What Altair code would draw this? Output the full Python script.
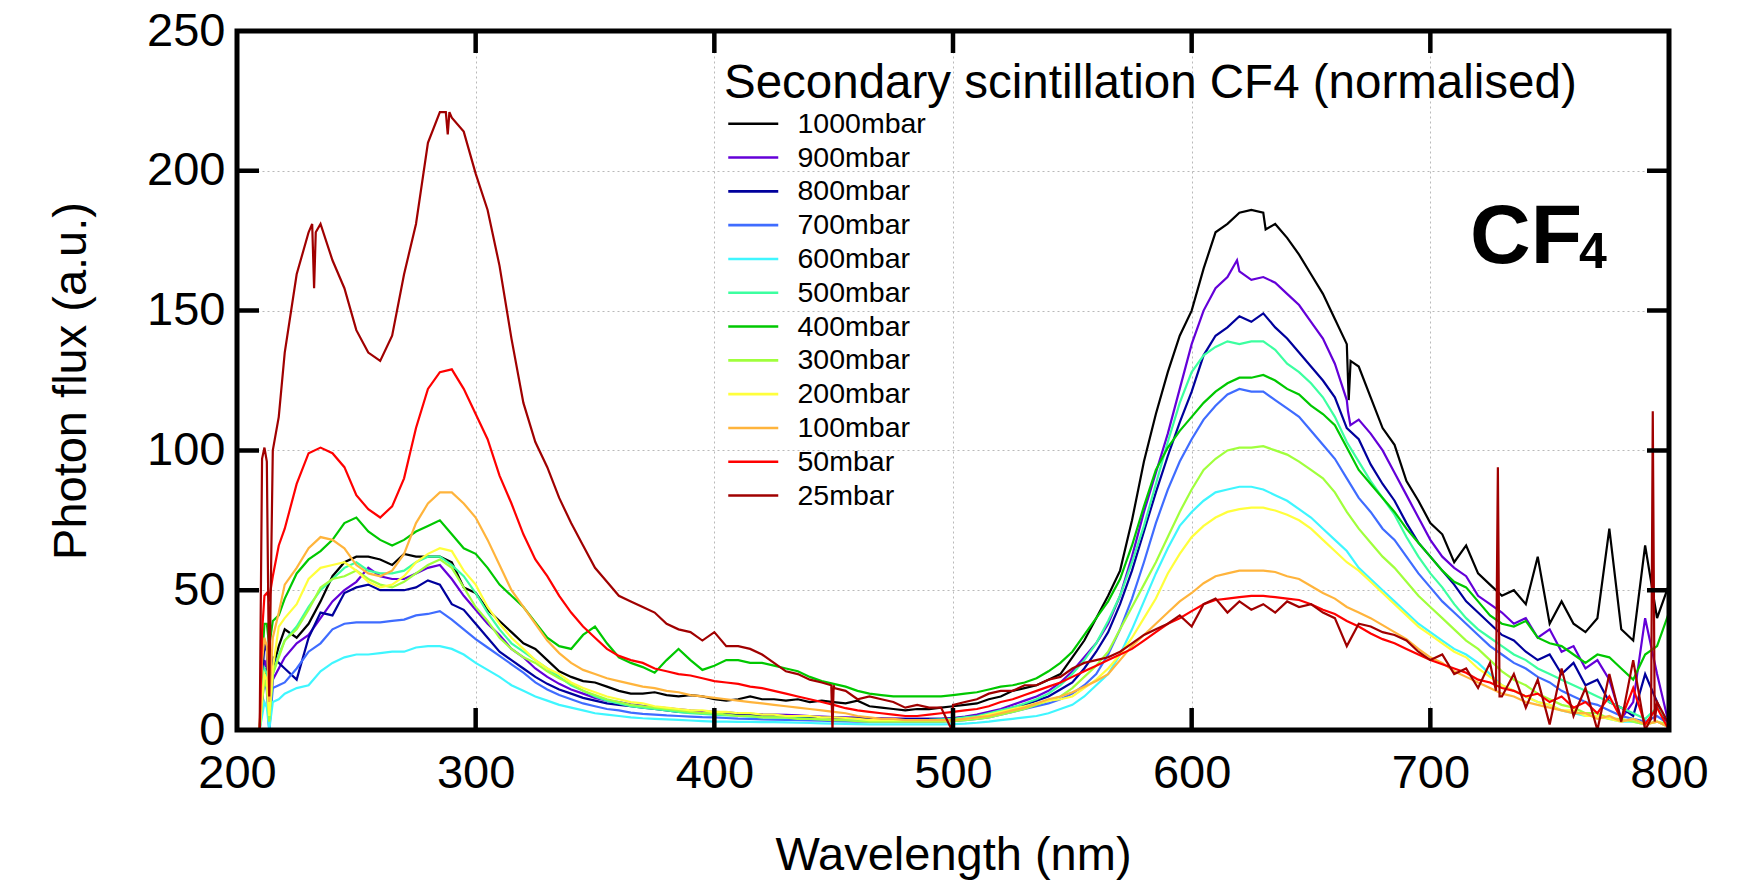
import altair as alt
import pandas as pd

FONT = "Liberation Sans"

# Wavelength grid (nm) shared by all series
GRID = [200, 209.5, 210.5, 211.5, 212.5, 213.5, 215, 217.5, 220] + list(range(225, 801, 5))

SERIES = ["1000mbar", "900mbar", "800mbar", "700mbar", "600mbar", "500mbar",
          "400mbar", "300mbar", "200mbar", "100mbar", "50mbar", "25mbar"]
COLORS = ["#000000", "#6400d8", "#00009c", "#3f6cff", "#3ff6ff", "#3cffa0",
          "#00c800", "#a0ff3c", "#ffff3c", "#ffb43c", "#ff0000", "#a00000"]

X_TICKS = [200, 300, 400, 500, 600, 700, 800]
Y_TICKS = [0, 50, 100, 150, 200, 250]
X_INNER = [300, 400, 500, 600, 700]
Y_INNER = [50, 100, 150, 200]

P1000 = [0, 0, 10, 22, 20, 2, 22, 30, 36,
         33, 38, 46, 55, 60, 62, 62, 61, 59, 63, 62, 62, 62, 60, 51, 49, 43, 39, 35, 31,
         29, 25, 21, 19, 17.5, 17, 15.5, 14, 13, 13, 13.5, 12.5, 12, 12.5, 12, 11, 10.5, 11, 12, 11,
         11, 10.5, 11, 10, 10.5, 10, 9.5, 10.5, 8.5, 8, 7.5, 7, 7.5, 7.5, 8, 8.5, 9, 9.5, 11, 12,
         14, 15, 16, 18, 20, 26, 32, 40, 48, 57, 75, 96, 113, 128, 141, 150, 165, 178, 181, 185,
         186, 185, 181, 176, 170, 163, 156, 147, 138, 130, 119, 108, 102, 89, 82, 74, 70, 60, 66, 56,
         52, 48, 50, 45, 62, 38, 46, 38, 35, 40, 72, 36, 32, 66, 40, 52]
P900 = [0, 0, 15, 25, 22, 0, 18, 22, 26,
        31, 34, 40, 46, 50, 53, 58, 55, 54, 54, 56, 58, 59, 54, 48, 43, 38, 34, 29, 26,
        22, 19, 16.5, 14.5, 13, 11.5, 10.5, 10, 9.2, 8.6, 8.2, 7.8, 7.4, 7, 6.7, 6.5, 6.3, 6, 5.8, 5.6,
        5.5, 5.4, 5.2, 5, 4.8, 4.6, 4.5, 4.4, 4.3, 4.2, 4.1, 4, 4, 4, 4, 4.3, 4.8, 5.5, 6.5, 7.5,
        9, 10.5, 12, 14, 17, 21, 26, 31, 38, 48, 62, 78, 92, 106, 122, 138, 150, 158, 162, 164,
        161, 162, 160, 156, 152, 146, 140, 131, 118, 111, 106, 100, 92, 84, 76, 68, 62, 58, 55, 48,
        45, 42, 38, 40, 33, 36, 28, 30, 22, 25, 18, 4, 10, 40, 20, 2]
P800 = [0, 0, 18, 31, 28, 0, 26, 24, 22,
        18, 33, 42, 41, 49, 51, 52, 50, 50, 50, 51, 53.5, 52, 45, 43, 38, 33, 28, 25, 22,
        19, 16.5, 14.5, 13, 11.5, 10.5, 9.5, 9, 8.5, 8, 7.5, 7, 6.5, 6.3, 6, 5.8, 5.6, 5.4, 5.2, 5,
        5, 4.8, 4.7, 4.6, 4.5, 4.4, 4.3, 4.2, 4.1, 4, 4, 4, 4, 4, 4, 4.2, 4.5, 5, 5.8, 6.8,
        8, 9, 10.5, 12, 14.5, 17, 22, 28, 35, 45, 57, 71, 85, 98, 110, 121, 134, 141, 144, 148,
        146, 149, 144, 140, 135, 130, 125, 119, 108, 104, 95, 88, 82, 74, 67, 62, 57, 52, 46, 42,
        38, 34, 32, 28, 25, 27, 20, 24, 16, 18, 10, 8, 5, 20, 10, 0]
P700 = [0, 0, 10, 18, 14, 0, 15, 16, 17,
        22, 28, 31, 36, 38, 38.5, 38.5, 38.5, 39, 39.5, 41, 41.5, 42.5, 39.5, 36, 32.5, 29.5, 26.5, 23.5, 20.5,
        17, 14.5, 12.5, 11, 9.5, 8.5, 7.5, 7, 6.2, 5.8, 5.5, 5.2, 5, 4.8, 4.6, 4.5, 4.3, 4.1, 4, 3.8,
        3.7, 3.6, 3.5, 3.4, 3.3, 3.2, 3.1, 3, 3, 3, 3, 3, 3, 3, 3, 3.2, 3.5, 4, 4.5, 5.5,
        6.5, 7.5, 8.5, 9.5, 11, 13, 16, 20, 27, 36, 47, 60, 74, 86, 96, 104, 111, 116, 120, 122,
        121, 121, 118, 115, 112, 107, 102, 97, 90, 83, 78, 72, 68, 62, 56, 51, 46, 42, 38, 34,
        30, 27, 24, 22, 19, 17, 14, 12, 10, 9, 7, 5, 4, 3, 5, 2]
P600 = [0, 0, 5, 10, 8, 0, 10, 11, 13,
        15, 16, 21, 24, 26, 27, 27, 27.5, 28, 28, 29.5, 30, 30, 29, 27, 24, 21.5, 19, 16, 14,
        12, 10.5, 9, 8, 7, 6, 5.5, 5, 4.5, 4.2, 4, 3.8, 3.6, 3.4, 3.2, 3, 3, 2.9, 2.9, 2.8,
        2.8, 2.7, 2.6, 2.5, 2.4, 2.3, 2.2, 2.1, 2, 2, 2, 2, 2, 2, 2, 2.1, 2.3, 2.6, 3, 3.5,
        4, 4.5, 5, 6, 7.5, 9, 12, 16, 20, 27, 36, 46, 56, 65, 73, 78, 82, 85, 86, 87,
        87, 86, 84, 82, 79, 76, 72, 68, 64, 58, 54, 50, 46, 42, 38, 35, 32, 29, 27, 24,
        20, 16, 14, 12, 10, 9, 7, 6, 5, 5, 4, 3, 3, 2, 3, 1]
P500 = [0, 0, 15, 22, 20, 4, 20, 27, 32,
        37, 44, 50, 54, 58, 60, 57, 56, 56, 57, 60, 62, 62, 59, 55, 49, 42, 36, 31, 28,
        25, 22, 19, 16, 14, 12, 10.5, 9.5, 8.5, 8, 7.5, 7, 6.5, 6, 5.8, 5.5, 5.2, 5, 4.8, 4.6,
        4.5, 4.4, 4.2, 4, 3.8, 3.6, 3.5, 3.5, 3.5, 3.5, 3.5, 3.5, 3.5, 3.6, 3.8, 4, 4.5, 5, 6, 7,
        8, 9.5, 11, 13, 16, 20, 25, 31, 39, 48, 60, 73, 88, 103, 117, 128, 134, 137, 139, 138,
        139, 139, 136, 131, 128, 124, 119, 112, 103, 96, 89, 83, 77, 69, 62, 56, 51, 45, 40, 36,
        33, 30, 27, 25, 22, 20, 18, 16, 14, 12, 10, 8, 6, 4, 8, 3]
P400 = [0, 0, 25, 38, 38, 30, 39, 41, 47,
        56, 61, 64, 68, 74, 76, 71, 68, 66, 68, 71, 73, 75, 70, 65, 63, 58, 52, 48, 44,
        38.5, 33, 30, 29, 34, 37, 31, 26, 24, 22.5, 20.5, 25, 29, 25, 21.5, 23, 25, 25, 24, 24,
        23, 22, 21, 19, 17.5, 16.5, 15.5, 14, 13, 12.5, 12, 12, 12, 12, 12, 12.5, 13, 13.5, 14.5, 15.5,
        16, 17, 18.5, 21, 24, 28, 34, 40, 46, 54, 66, 80, 93, 101, 107, 112, 117, 121, 124, 126,
        126, 127, 125, 122, 120, 116, 113, 109, 101, 93, 88, 83, 78, 72, 67, 62, 57, 53, 51, 46,
        41, 38, 37, 39, 33, 31, 30, 27, 24, 27, 26, 22, 18, 27, 30, 42]
P300 = [0, 0, 10, 18, 15, 3, 20, 26, 32,
        36, 43, 51, 54, 55, 57, 54, 52, 51, 53, 56, 59, 61, 58, 51, 44, 39, 33, 29, 26,
        24, 21, 18.5, 16.5, 14, 12.5, 11, 10, 9, 8.5, 8, 7.5, 7, 6.5, 6, 6, 5.5, 5, 5, 4.5,
        4.5, 4.5, 4, 4, 3.8, 3.5, 3.5, 3.2, 3, 3, 3, 3, 3, 3, 3, 3.2, 3.5, 4, 4.5, 5.5,
        6.5, 7.5, 9, 10.5, 12, 15, 19, 23, 28, 36, 44, 52, 60, 69, 78, 86, 93, 97, 100, 101,
        101, 101.5, 100, 98.5, 96, 93, 90, 85, 78, 72, 67, 62, 58, 53, 48, 44, 40, 36, 32, 29,
        25, 21, 18, 16, 13, 11, 9, 8, 6, 6, 4, 4, 3, 2, 3, 2]
P200 = [0, 0, 12, 20, 18, 5, 22, 37, 40,
        45, 54, 58, 59, 60, 57, 53, 51, 52, 55, 60, 63, 65, 64, 57, 52, 44, 38, 33, 29,
        25, 22, 20, 17, 15, 13.5, 12, 11, 10, 9.5, 8.5, 8, 7.5, 7, 7, 6.5, 6.5, 6, 6, 5.5,
        5.5, 5, 5, 5, 4.5, 4.5, 4.3, 4, 3.5, 3.5, 3.5, 3.5, 3.5, 3.5, 3.5, 3.5, 4, 4.5, 5.5, 6.5,
        7.5, 8.5, 9.5, 10.5, 11, 12, 15, 18, 22, 27, 33, 40, 47, 56, 63, 69, 73, 76, 78, 79,
        79.5, 79.5, 78.5, 77, 75, 72, 68, 64, 60, 57, 53, 49, 45, 41, 37, 34, 31, 28, 26, 22,
        19, 16, 14, 12, 10, 9, 7, 7, 5, 5, 4, 3, 4, 2, 3, 1]
P100 = [0, 0, 25, 33, 30, 10, 33, 42, 52,
        58, 65, 69, 68, 65, 59, 56, 55, 57, 63, 74, 81, 85, 85, 81, 76, 68, 59, 50, 44,
        38, 32, 27.5, 24, 21.5, 20, 18.5, 17.5, 16.5, 15.5, 15, 14, 13.5, 12.5, 12, 11.5, 11, 10.5, 10, 9.5,
        9, 8.5, 8, 7.5, 7, 6.5, 6, 5, 4.5, 4, 4, 3.5, 3.5, 3.5, 3.5, 3.5, 4, 4.5, 5, 6,
        7, 8, 9.5, 11, 12, 13.5, 15.5, 17.5, 20, 25, 30, 34, 38, 42, 46, 49, 52.5, 55, 56, 57,
        57, 57, 56.5, 55, 54, 51.5, 49, 47, 44, 42, 40, 37.5, 35, 32.5, 29, 26, 24, 21, 19, 17,
        15, 13, 12, 10, 9, 8, 7, 6, 6, 4, 5, 3, 4, 2, 3, 1]
P50 = [0, 0, 35, 48, 49, 47, 55, 66, 72,
       88, 99, 101, 99, 94, 84, 79, 76, 80, 90, 108, 122, 128, 129, 122, 113, 104, 91, 81, 70,
       61, 55, 48, 42, 37, 33, 29, 26.5, 25, 24, 22, 21, 20, 19.5, 18.5, 17.5, 17, 16.5, 15.5, 15,
       14, 13, 12, 11, 10, 9, 7.8, 7, 6.5, 6, 5.5, 5, 5, 5.5, 6, 6.5, 7, 7.5, 8.5, 10,
       11, 12.5, 14, 15.5, 17, 19, 21, 23, 25, 27, 29, 32, 35, 38, 40, 42.5, 45, 46.5, 47, 47.5,
       48, 48, 47.5, 47, 46.5, 45, 43, 41.5, 39, 37, 34.5, 32.5, 31, 29, 27, 25, 23.5, 22, 20.5, 18,
       17, 15, 14, 12, 13, 10, 12, 8, 10, 6, 12, 4, 15, 2, 8, 0]
P25 = [0, 0, 97, 101, 96, 12, 100, 112, 135,
       163, 178, 181, 168, 158, 143, 135, 132, 141, 163, 181, 210, 221, 219, 214, 199, 186, 166, 140, 117,
       103, 94, 83, 74, 66, 58, 53, 48, 46, 44, 42, 38, 36, 35, 32, 35, 30, 30, 29, 27,
       24, 21, 20, 18, 17, 16, 14, 11, 12, 11, 10, 8, 9, 8, 8, 9, 10, 11, 13, 14,
       14, 16, 16, 18, 19, 22, 24, 25, 26, 28, 31, 34, 36, 38, 41, 37, 45, 47, 42, 46,
       43, 45, 42, 46, 44, 45, 42, 40, 30, 38, 37, 35, 34, 32, 28, 25, 27, 20, 22, 15,
       24, 12, 20, 8, 18, 2, 22, 5, 15, 0, 20, 3, 25, 0, 10, 2]

VALUES = [P1000, P900, P800, P700, P600, P500, P400, P300, P200, P100, P50, P25]

# narrow spikes / dips between grid points: (wavelength, value)
EXTRA = {
    "1000mbar": [(631, 179), (665.8, 118), (666.6, 132)],
    "900mbar": [(619, 168), (665.5, 114), (666.5, 109)],
    "25mbar": [(231.5, 181), (232.3, 158), (233, 178), (287.5, 221), (288.3, 213), (289, 221),
               (449, 16), (449.5, 0), (450.3, 15),
               (499.5, 0), (500.3, 9), (727.5, 14), (728.3, 94), (729, 12),
               (792.5, 4), (793.2, 114), (794, 3)],
}

rows = []
for name, vals in zip(SERIES, VALUES):
    assert len(vals) == len(GRID), (name, len(vals), len(GRID))
    pts = sorted(list(zip(GRID, vals)) + EXTRA.get(name, []))
    for w, v in pts:
        rows.append({"wavelength": w, "flux": v, "pressure": name})
df = pd.DataFrame(rows)

XT = "Wavelength (nm)"
YT = "Photon flux (a.u.)"
xs = alt.Scale(domain=[200, 800], nice=False, zero=False)
ys = alt.Scale(domain=[0, 250], nice=False, zero=False)

x_axis = alt.Axis(values=X_TICKS, title=XT, labelPadding=20, titlePadding=36,
                  labelFlush=False, labelOverlap=False, format="d")
y_axis = alt.Axis(values=Y_TICKS, title=YT, labelPadding=12, titlePadding=51,
                  labelOverlap=False, format="d")

lines = alt.Chart(df).mark_line(strokeWidth=2.2, clip=True).encode(
    x=alt.X("wavelength:Q", scale=xs, axis=x_axis),
    y=alt.Y("flux:Q", scale=ys, axis=y_axis),
    color=alt.Color(
        "pressure:N",
        scale=alt.Scale(domain=SERIES, range=COLORS),
        sort=SERIES,
        legend=alt.Legend(
            orient="none", legendX=487, legendY=29,
            title="Secondary scintillation CF4 (normalised)",
            titleFont=FONT, titleFontSize=47.5, titleFontWeight="normal", titleColor="black",
            titleLimit=2000, titlePadding=2,
            labelFont=FONT, labelFontSize=28.5, labelColor="black", labelLimit=500,
            labelOffset=30, symbolOffset=15,
            symbolType="M-2,0H2", symbolSize=625, symbolStrokeWidth=2.6,
            rowPadding=4.8, padding=0,
        ),
    ),
)

ydf = pd.DataFrame({"v": Y_INNER})
xdf = pd.DataFrame({"v": X_INNER})
tick_style = dict(size=44, thickness=4.5, color="black", opacity=1, clip=True)

left = alt.Chart(ydf).mark_tick(orient="horizontal", **tick_style).encode(
    x=alt.datum(200, scale=xs), y=alt.Y("v:Q", scale=ys, title=YT))
right = alt.Chart(ydf).mark_tick(orient="horizontal", **tick_style).encode(
    x=alt.datum(800, scale=xs), y=alt.Y("v:Q", scale=ys, title=YT))
bottom = alt.Chart(xdf).mark_tick(orient="vertical", **tick_style).encode(
    x=alt.X("v:Q", scale=xs, title=XT), y=alt.datum(0, scale=ys))
top = alt.Chart(xdf).mark_tick(orient="vertical", **tick_style).encode(
    x=alt.X("v:Q", scale=xs, title=XT), y=alt.datum(250, scale=ys))

frame = alt.Chart(pd.DataFrame({"f": [0]})).mark_rect(
    fillOpacity=0, stroke="black", strokeWidth=5).encode(
    x=alt.value(0), x2=alt.value(1432), y=alt.value(0), y2=alt.value(699))

lab = pd.DataFrame({"t": ["CF"]})
sub = pd.DataFrame({"t": ["4"]})
cf = alt.Chart(lab).mark_text(font=FONT, fontSize=84, fontWeight="bold", align="left",
                              baseline="alphabetic", color="black").encode(
    text="t:N", x=alt.value(1233), y=alt.value(232))
cf4 = alt.Chart(sub).mark_text(font=FONT, fontSize=50, fontWeight="bold", align="left",
                               baseline="alphabetic", color="black").encode(
    text="t:N", x=alt.value(1342), y=alt.value(237))

chart = alt.layer(lines, frame, left, right, bottom, top, cf, cf4).properties(
    width=1432, height=699,
    autosize=alt.AutoSizeParams(type="none"),
    padding={"left": 237, "top": 31, "right": 73, "bottom": 153},
    background="white",
).configure_view(
    stroke="transparent"
).configure_axis(
    grid=True, gridColor="#b9b9b9", gridDash=[2, 3], gridWidth=1,
    domain=False, ticks=False,
    labelFont=FONT, labelFontSize=47, labelColor="black",
    titleFont=FONT, titleFontSize=47, titleFontWeight="normal", titleColor="black",
)

chart.save("out.html", embed_options={"renderer": "svg", "actions": False})
